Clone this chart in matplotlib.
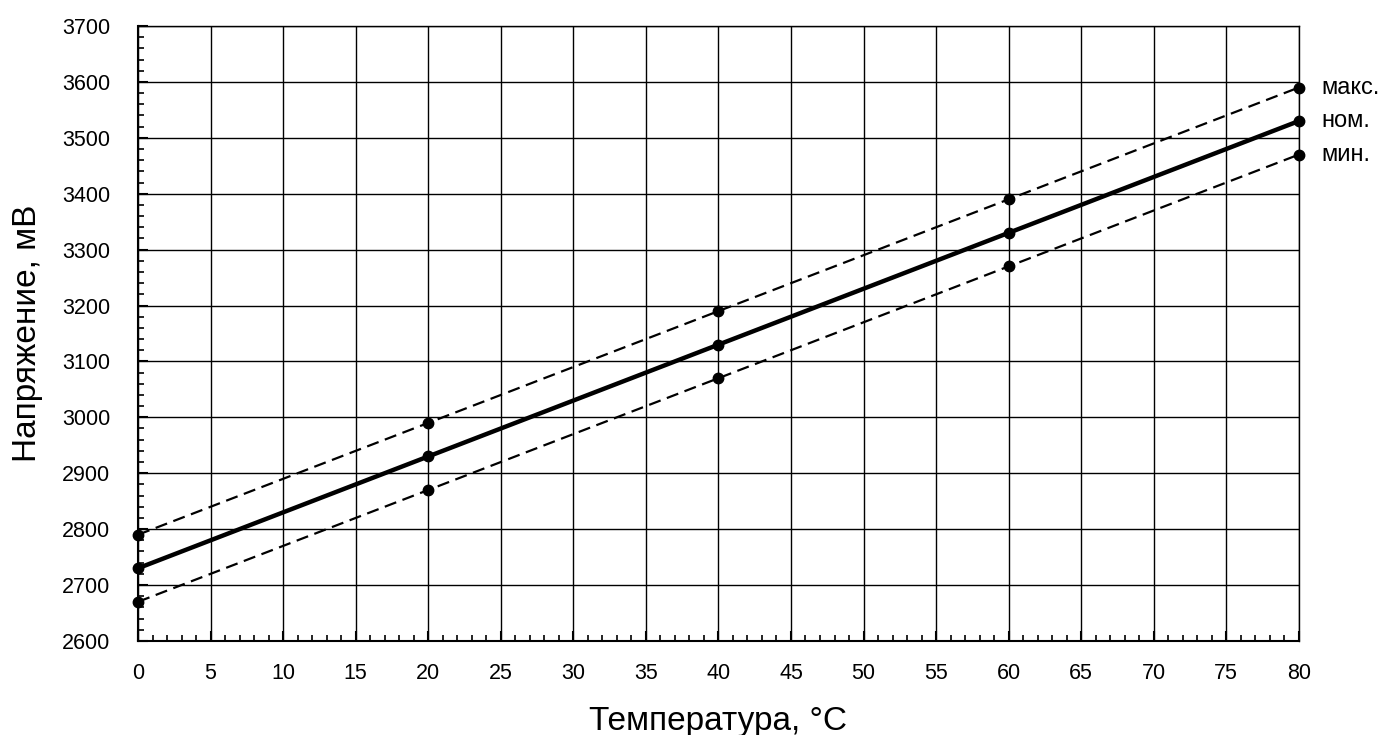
import matplotlib
matplotlib.use('Agg')
import matplotlib.pyplot as plt
from matplotlib.ticker import MultipleLocator

plt.rcParams['font.family'] = ['Liberation Sans Narrow', 'Liberation Sans', 'DejaVu Sans']

# данные
temp = [0, 20, 40, 60, 80]
u_max = [2790, 2990, 3190, 3390, 3590]
u_nom = [2730, 2930, 3130, 3330, 3530]
u_min = [2670, 2870, 3070, 3270, 3470]
labels = ['макс.', 'ном.', 'мин.']

fig = plt.figure(figsize=(13.86, 7.35), dpi=100)
ax = fig.add_axes([0.0996, 0.128, 0.8375, 0.8366])

dash = (0, (5.5, 3))
ax.plot(temp, u_max, color='black', lw=1.6, ls=dash, marker='o', ms=7.5, clip_on=False, zorder=3)
ax.plot(temp, u_nom, color='black', lw=3.2, marker='o', ms=7.5, clip_on=False, zorder=3)
ax.plot(temp, u_min, color='black', lw=1.6, ls=dash, marker='o', ms=7.5, clip_on=False, zorder=3)

# подписи кривых справа
for lab, y in zip(labels, [u_max[-1], u_nom[-1], u_min[-1]]):
    ax.annotate(lab, xy=(temp[-1], y), xytext=(16, 0), textcoords='offset points',
                va='center', ha='left', fontsize=17)

ax.set_xlim(0, 80)
ax.set_ylim(2600, 3700)
ax.xaxis.set_major_locator(MultipleLocator(5))
ax.xaxis.set_minor_locator(MultipleLocator(1))
ax.yaxis.set_major_locator(MultipleLocator(100))
ax.yaxis.set_minor_locator(MultipleLocator(20))
ax.tick_params(which='major', direction='in', length=7, width=1.5, labelsize=15.5)
ax.tick_params(which='minor', direction='in', length=4, width=1.2)
ax.tick_params(axis='x', pad=16)
ax.tick_params(axis='y', pad=20)
ax.grid(True, which='major', color='black', lw=1)
for s in ax.spines.values():
    s.set_linewidth(1)
ax.spines['left'].set_linewidth(1.5)
ax.spines['bottom'].set_linewidth(1.5)

ax.set_xlabel('Температура, °C', fontsize=24, labelpad=16)
ax.set_ylabel('Напряжение, мВ', fontsize=24, labelpad=14)

fig.savefig('out.png', dpi=100)
